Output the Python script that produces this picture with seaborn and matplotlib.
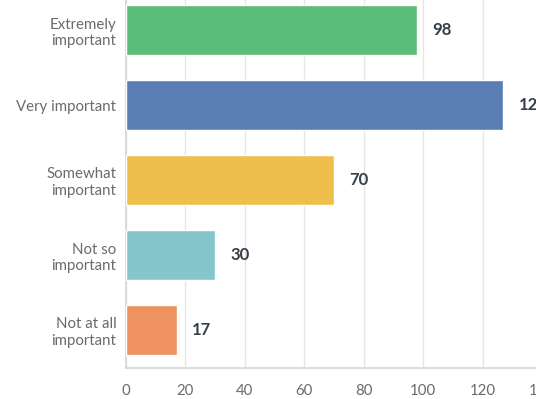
import matplotlib
matplotlib.use("Agg")
import matplotlib.pyplot as plt
import seaborn as sns
import pandas as pd

categories = ["Extremely\nimportant", "Very important", "Somewhat\nimportant",
              "Not so\nimportant", "Not at all\nimportant"]
counts = [98, 127, 70, 30, 17]
bar_colors = ["#5bbd77", "#5a7db4", "#efbf4e", "#84c6cc", "#ee9360"]
x_ticks = [0, 20, 40, 60, 80, 100, 120, 140]

df = pd.DataFrame({"category": categories, "count": counts})

sns.set_theme(style="white")
plt.rcParams["font.family"] = ["Lato", "DejaVu Sans"]

W, H = 536, 399
fig = plt.figure(figsize=(W / 100, H / 100), dpi=100)
# axes box: left at 126px, bottom spine at 367.5px; right/top run past the canvas
ax = fig.add_axes([126 / W, (H - 367.5) / H, (542 - 126) / W, 375 / H])

sns.barplot(data=df, y="category", x="count", hue="category",
            palette=bar_colors, legend=False, width=0.67,
            saturation=1, ax=ax, zorder=3)

ax.set_xlim(0, 140)
ax.set_xticks(x_ticks)
ax.set_xticklabels([str(t) for t in x_ticks])
ax.set_xlabel("")
ax.set_ylabel("")
ax.grid(axis="x", color="#e6e6e6", linewidth=1, zorder=0)
ax.set_axisbelow(True)

for side in ("top", "right"):
    ax.spines[side].set_visible(False)
for side in ("left", "bottom"):
    ax.spines[side].set_color("#d6d6d6")
    ax.spines[side].set_linewidth(1.2)

ax.tick_params(axis="x", length=0, pad=12, labelsize=10.8, labelcolor="#6b6b6b")
ax.tick_params(axis="y", length=0, pad=7, labelsize=10.8, labelcolor="#6b6b6b")
for lbl in ax.get_yticklabels():
    lbl.set_horizontalalignment("right")
    lbl.set_multialignment("right")
    lbl.set_linespacing(1.2)

for i, v in enumerate(counts):
    ax.annotate(str(v), xy=(v, i), xytext=(11, 0), textcoords="offset points",
                ha="left", va="center", fontsize=12, fontweight="bold",
                color="#333e48", annotation_clip=False)

fig.savefig("out.png", dpi=100)
